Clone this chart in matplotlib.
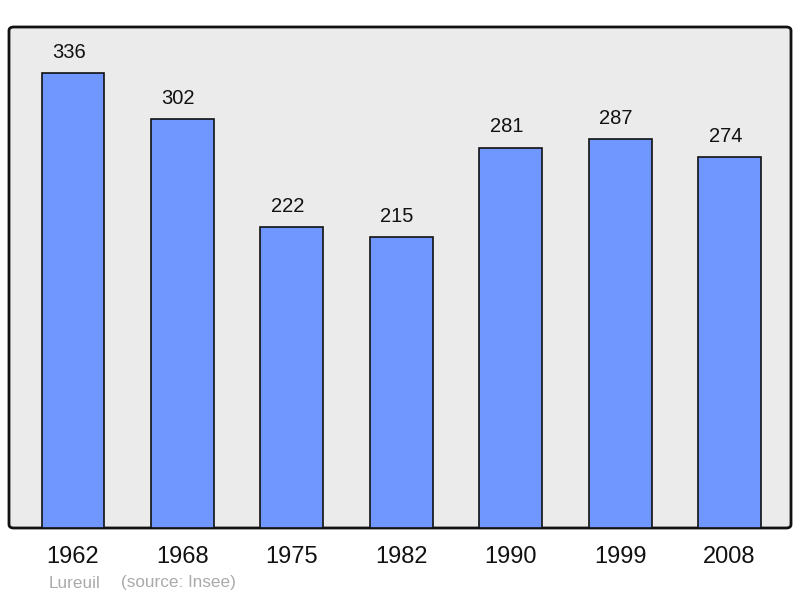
import matplotlib.pyplot as plt
from matplotlib.patches import FancyBboxPatch

plt.rcParams['font.family'] = ['Liberation Sans', 'DejaVu Sans']

years = ['1962', '1968', '1975', '1982', '1990', '1999', '2008']
population = [336, 302, 222, 215, 281, 287, 274]

fig = plt.figure(figsize=(8, 5.98), dpi=100)
ax = fig.add_axes([9/800, 1 - 528/598, 782/800, 501/598])
ax.set_facecolor('none')

# rounded background box
box = FancyBboxPatch((9/800, 1 - 528/598), 782/800, 501/598,
                     boxstyle='round,pad=0,rounding_size=0.006',
                     transform=fig.transFigure, facecolor='#ebebeb',
                     edgecolor='#111111', linewidth=2, zorder=-1)
fig.patches.append(box)

x = range(len(years))
bars = ax.bar(x, population, width=0.575, color='#7096ff',
              edgecolor='#111111', linewidth=1.2, zorder=2)
for xi, v in zip(x, population):
    ax.annotate(str(v), (xi, v), xytext=(-3, 8), textcoords='offset points',
                ha='center', va='bottom', fontsize=14.5, color='#111111')

ax.set_xlim(-0.585, 6.562)
ax.set_ylim(0, 370)
for s in ax.spines.values():
    s.set_visible(False)
ax.set_yticks([])
ax.set_xticks(list(x))
ax.set_xticklabels(years, fontsize=17, color='#111111')
ax.tick_params(axis='x', length=0, pad=13)

fig.text(49/800, 1 - 583/598, 'Lureuil', fontsize=12.3, color='#aaaaaa', va='center')
fig.text(121/800, 1 - 583/598, '(source: Insee)', fontsize=12.3, color='#aaaaaa', va='center')

fig.savefig('out.png', dpi=100)
